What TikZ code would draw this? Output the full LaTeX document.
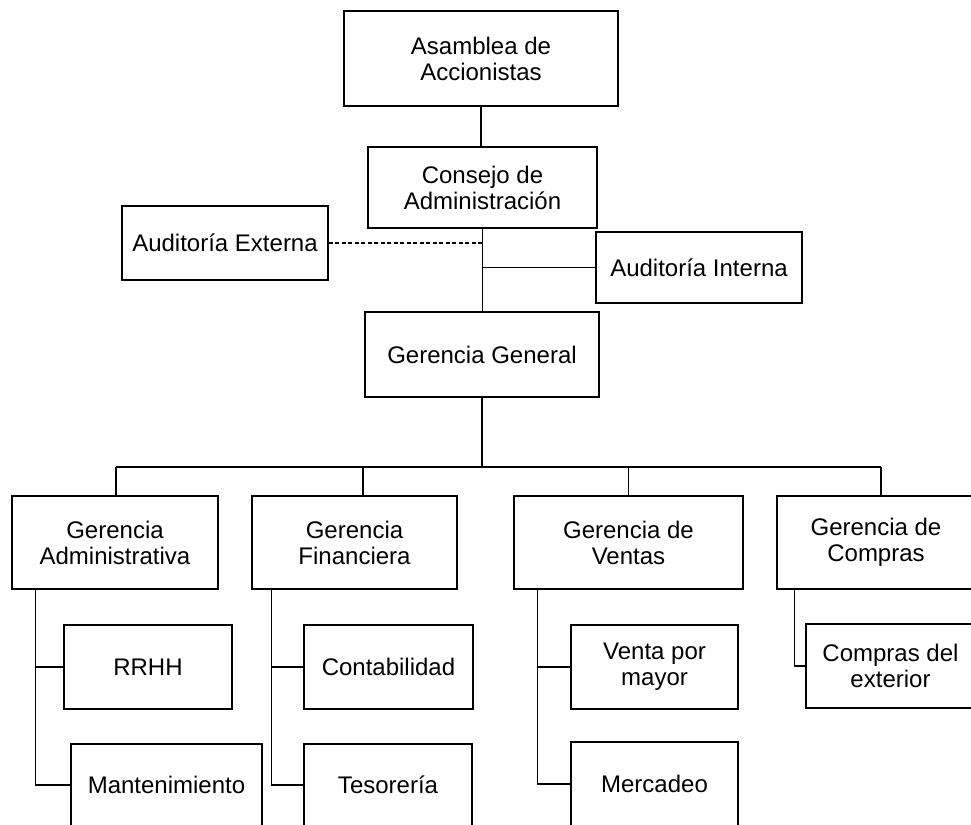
\documentclass[tikz,border=0pt]{standalone}
\usepackage{fontspec}
\setmainfont{Liberation Sans}
\tikzset{
    every node/.append style={font=\fontsize{24}{26}\selectfont},
    orgbox/.style 2 args={draw, line width=1.2pt, align=center, inner sep=0pt,
        minimum width=#1pt, minimum height=#2pt},
    link/.style={line width=1.2pt},
    dotlink/.style={line width=1.2pt, dash pattern=on 4pt off 2.5pt}}

\begin{document}
\begin{tikzpicture}[x=1pt,y=-1pt]
    \useasboundingbox (0,0) rectangle (971,824);
    \clip (0,0) rectangle (971,824);

    % top levels
    \node[orgbox={274}{95}] (asamblea) at (481,58.5) {Asamblea de\\Accionistas};
    \node[orgbox={229}{81}] (consejo) at (482.5,187.5) {Consejo de\\Administración};
    \node[orgbox={206}{74}] (externa) at (225,243) {Auditoría Externa};
    \node[orgbox={206}{71}] (interna) at (699,267.5) {Auditoría Interna};
    \node[orgbox={234}{85}] (general) at (482,354.5) {Gerencia General};

    % gerencias
    \node[orgbox={206}{93}] (admin) at (115,542.5) {Gerencia\\Administrativa};
    \node[orgbox={205}{93}] (finan) at (354.5,542.5) {Gerencia\\Financiera};
    \node[orgbox={229}{93}] (ventas) at (628.5,542.5) {Gerencia de\\Ventas};
    \node[orgbox={198}{93}] (compras) at (876,542.5) {Gerencia de\\Compras};

    % departamentos
    \node[orgbox={168}{84}] (rrhh) at (148,667) {RRHH};
    \node[orgbox={191}{82}] (mant) at (166.5,785) {Mantenimiento};
    \node[orgbox={169}{84}] (conta) at (388.5,667) {Contabilidad};
    \node[orgbox={168}{82}] (teso) at (388,785) {Tesorería};
    \node[orgbox={167}{84}] (mayor) at (654.5,667) {Venta por\\mayor};
    \node[orgbox={167}{84}] (merca) at (654.5,784) {Mercadeo};
    \node[orgbox={169}{84}] (exterior) at (890.5,666) {Compras del\\exterior};

    % main spine
    \draw[link] (asamblea.south) -- (asamblea.south |- consejo.north);
    \draw[link] (consejo.south) -- (consejo.south |- general.north);
    \draw[dotlink] (externa.east) -- (externa.east -| consejo.south);
    \draw[link] (interna.west) -- (interna.west -| consejo.south);

    \coordinate (bus) at (482,467);
    \draw[link] (general.south) -- (bus);
    \draw[link] ([xshift=1pt]admin.north |- bus) -- ([xshift=5pt]compras.north |- bus);
    \foreach \n/\dx in {admin/1,finan/8.5,ventas/0,compras/5}
        \draw[link] ([xshift=\dx pt]\n.north) -- ([xshift=\dx pt]\n.north |- bus);

    % sub branches
    \coordinate (spA) at ([xshift=24pt]admin.south west);
    \coordinate (spB) at ([xshift=20pt]finan.south west);
    \coordinate (spC) at ([xshift=24pt]ventas.south west);
    \coordinate (spD) at ([xshift=18pt]compras.south west);
    \draw[link] (spA) |- (mant.west);
    \draw[link] (rrhh.west) -- (rrhh.west -| spA);
    \draw[link] (spB) |- (teso.west);
    \draw[link] (conta.west) -- (conta.west -| spB);
    \draw[link] (spC) |- (merca.west);
    \draw[link] (mayor.west) -- (mayor.west -| spC);
    \draw[link] (spD) |- (exterior.west);
\end{tikzpicture}
\end{document}
